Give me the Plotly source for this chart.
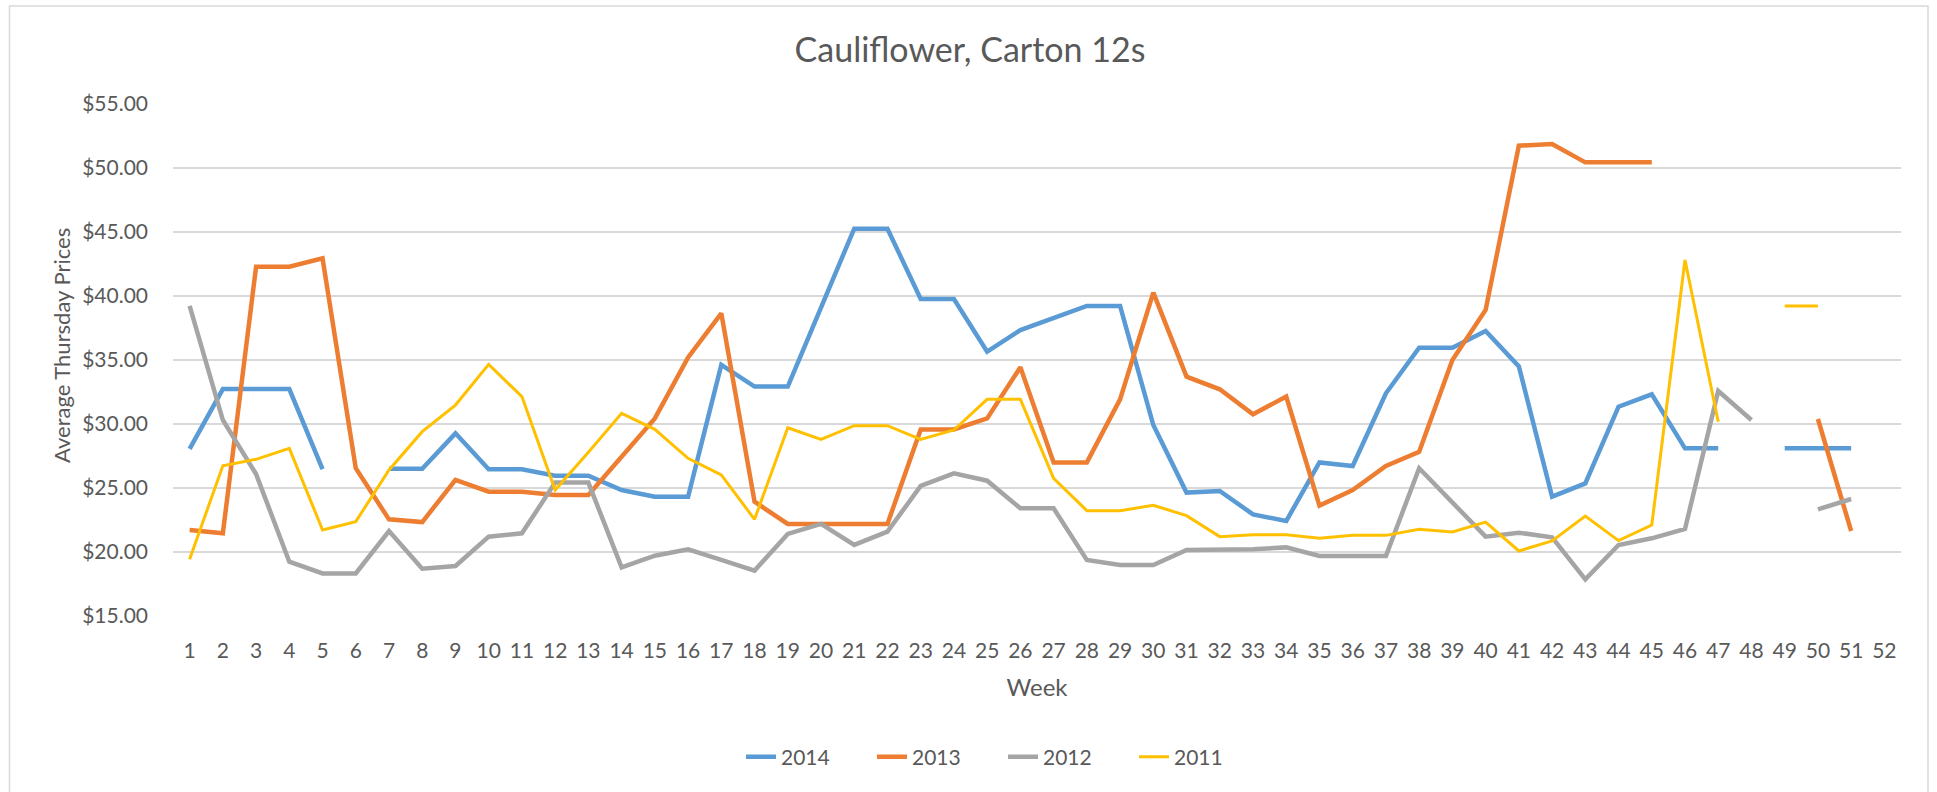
import plotly.graph_objects as go

weeks = list(range(1, 53))
week_labels = [str(w) for w in weeks]

y2014 = [28.05, 32.73, 32.73, 32.73, 26.48, None, 26.5, 26.5, 29.27, 26.46,
         26.46, 25.96, 25.96, 24.84, 24.32, 24.32, 34.62, 32.92, 32.92, 39.0,
         45.26, 45.26, 39.77, 39.77, 35.65, 37.34, 38.26, 39.22, 39.22, 29.92,
         24.64, 24.77, 22.94, 22.42, 27.0, 26.72, 32.4, 35.96, 35.96, 37.27,
         34.5, 24.32, 25.36, 31.35, 32.32, 28.1, 28.1, None, 28.1, 28.1,
         28.1, None]
y2013 = [21.72, 21.46, 42.29, 42.29, 42.94, 26.54, 22.55, 22.34, 25.63, 24.71,
         24.71, 24.45, 24.45, 27.5, 30.44, 35.2, 38.65, 23.93, 22.19, 22.19,
         22.19, 22.19, 29.58, 29.58, 30.44, 34.43, 27.0, 27.0, 31.93, 40.26,
         33.7, 32.71, 30.76, 32.14, 23.62, 24.84, 26.72, 27.83, 35.0, 38.91,
         51.74, 51.87, 50.44, 50.44, 50.44, None, None, None, None, 30.39,
         21.64, None]
y2012 = [39.22, 30.31, 26.09, 19.24, 18.33, 18.33, 21.64, 18.7, 18.91, 21.2,
         21.46, 25.42, 25.42, 18.8, 19.71, 20.21, 19.38, 18.55, 21.41, 22.19,
         20.55, 21.59, 25.16, 26.15, 25.57, 23.41, 23.41, 19.38, 18.98, 18.98,
         20.16, 20.21, 20.21, 20.36, 19.69, 19.69, 19.69, 26.54, 23.9, 21.2,
         21.51, 21.15, 17.86, 20.55, 21.07, 21.8, 32.58, 30.31, None, 23.33,
         24.14, None]
y2011 = [19.43, 26.74, 27.24, 28.1, 21.72, 22.37, 26.41, 29.4, 31.48, 34.66,
         32.14, 24.84, 27.8, 30.83, 29.58, 27.32, 26.02, 22.55, 29.71, 28.8,
         29.87, 29.87, 28.8, 29.53, 31.93, 31.93, 25.76, 23.23, 23.23, 23.65,
         22.84, 21.2, 21.35, 21.35, 21.07, 21.3, 21.3, 21.77, 21.56, 22.34,
         20.08, 20.86, 22.81, 20.89, 22.11, 42.81, 30.18, None, 39.22, 39.22,
         None, None]

y_tickvals = [15, 20, 25, 30, 35, 40, 45, 50, 55]
y_ticktext = ["$15.00", "$20.00", "$25.00", "$30.00", "$35.00",
              "$40.00", "$45.00", "$50.00", "$55.00"]

series = [
    ("2014", y2014, "#5B9BD5", 4.5),
    ("2013", y2013, "#ED7D31", 4.5),
    ("2012", y2012, "#A5A5A5", 4.5),
    ("2011", y2011, "#FFC000", 3),
]

TXT = "#595959"
FONT = "Lato"

fig = go.Figure()
for name, ys, color, w in series:
    fig.add_trace(go.Scatter(
        x=weeks, y=ys, name=name, mode="lines",
        line=dict(color=color, width=w),
        connectgaps=False,
    ))

W, H = 1937, 792
L, R, T, B = 173, 36, 104, 176
PW, PH = W - L - R, H - T - B


def px(xf):
    return (xf - L) / PW


def py(yf):
    return (H - B - yf) / PH


fig.update_layout(
    width=W, height=H,
    margin=dict(l=L, r=R, t=T, b=B, autoexpand=False),
    paper_bgcolor="white",
    plot_bgcolor="white",
    font=dict(family=FONT, color=TXT, size=21),
    title=dict(
        text="Cauliflower, Carton 12s",
        x=970 / W, xref="container", xanchor="center",
        y=1 - 50 / H, yref="container", yanchor="middle",
        font=dict(family=FONT, size=34, color=TXT),
    ),
    xaxis=dict(
        range=[0.5, 52.5],
        tickmode="array", tickvals=weeks, ticktext=week_labels,
        showgrid=False, zeroline=False,
        showline=False,
        ticks="", ticklabelstandoff=20,
        tickfont=dict(family=FONT, size=21, color=TXT),
        title=dict(text="Week", standoff=18,
                   font=dict(family=FONT, size=24, color=TXT)),
        fixedrange=True,
    ),
    yaxis=dict(
        range=[15, 55],
        tickmode="array",
        tickvals=y_tickvals,
        ticktext=y_ticktext,
        showgrid=True, gridcolor="#D9D9D9", gridwidth=2,
        zeroline=False, showline=False,
        ticks="", ticklabelstandoff=24,
        tickfont=dict(family=FONT, size=21, color=TXT),
        fixedrange=True,
    ),
    annotations=[
        dict(text="Average Thursday Prices", textangle=-90,
             xref="paper", yref="paper", x=px(61), y=py(346),
             xanchor="center", yanchor="middle", showarrow=False,
             font=dict(family=FONT, size=22, color=TXT)),
    ],
    showlegend=True,
    legend=dict(
        orientation="h",
        x=px(741), xanchor="left",
        y=py(757), yanchor="middle",
        font=dict(family=FONT, size=21, color=TXT),
        entrywidth=86, entrywidthmode="pixels",
        bgcolor="rgba(0,0,0,0)",
    ),
    shapes=[
        dict(type="rect", xref="paper", yref="paper",
             x0=px(9.5), x1=px(1928), y0=py(6), y1=py(830),
             line=dict(color="#D9D9D9", width=1.5),
             fillcolor="rgba(0,0,0,0)", layer="below"),
    ],
)

fig.write_html(
    "out.html",
    config={"displayModeBar": False},
    post_script="document.body.style.margin='0';document.body.style.overflow='hidden';",
)
